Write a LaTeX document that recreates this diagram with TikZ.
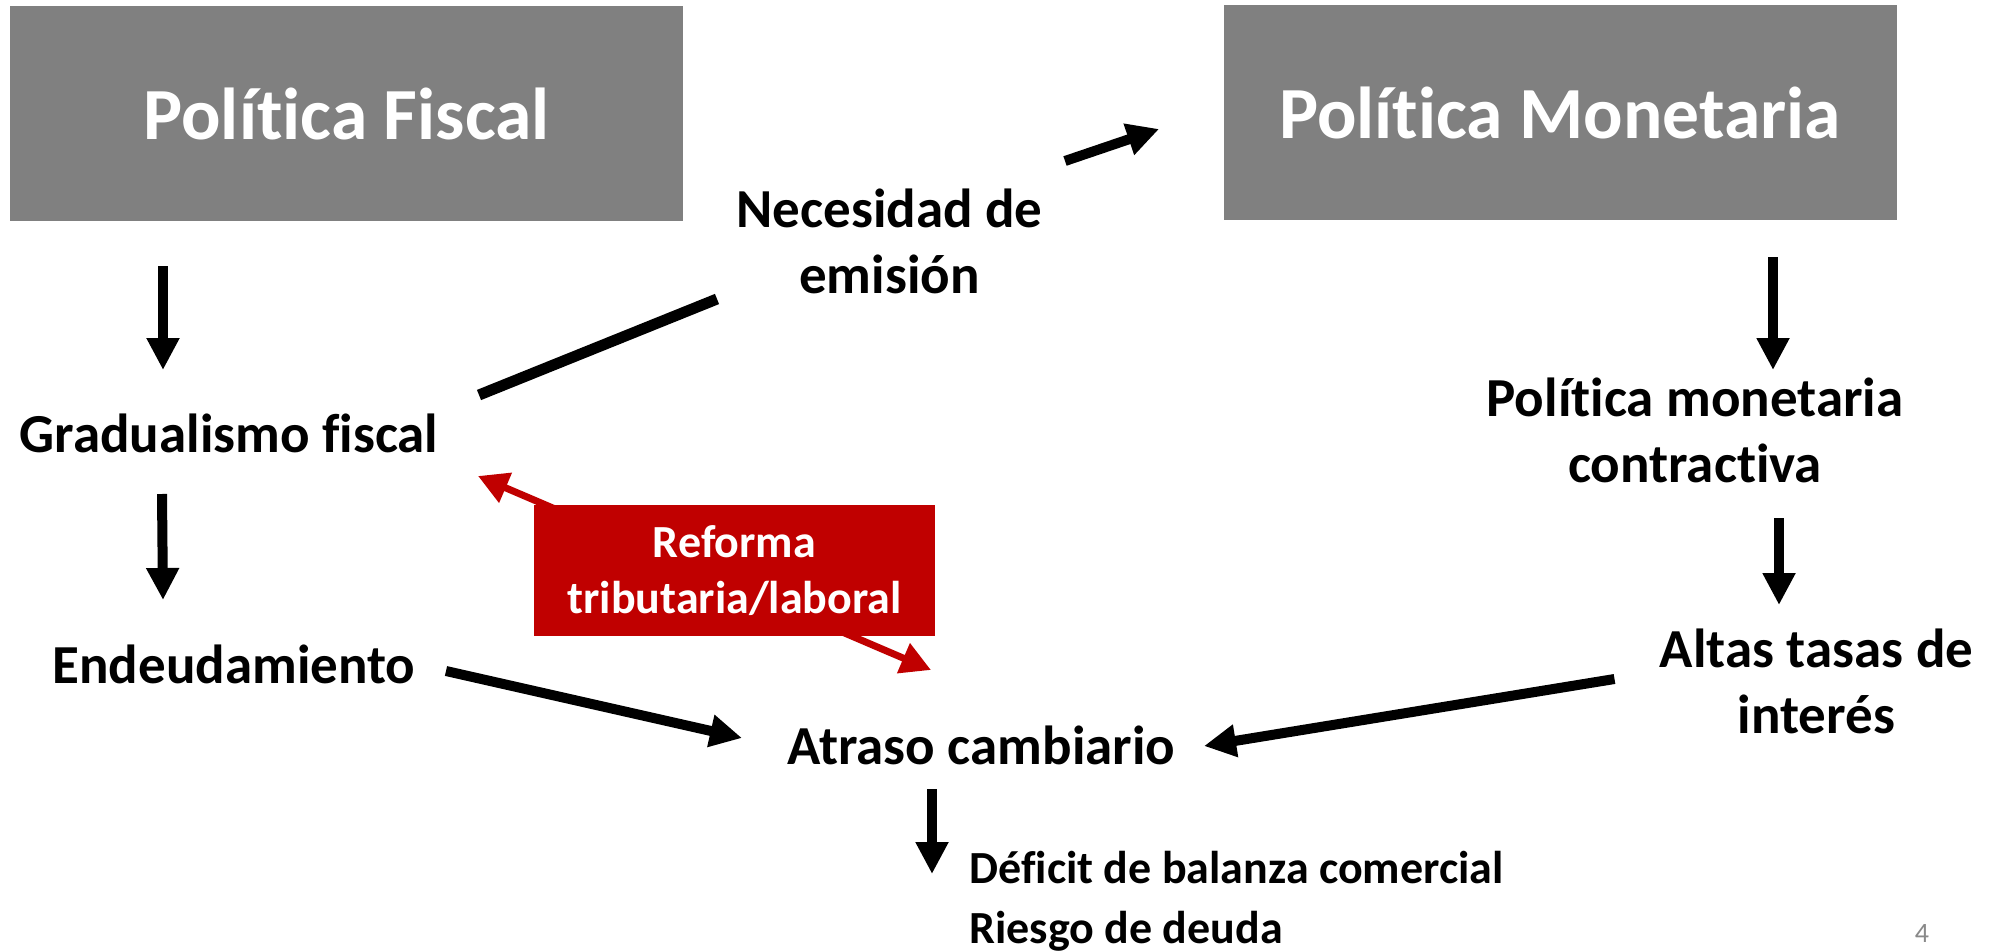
\documentclass[tikz,border=0pt]{standalone}
\usepackage{fontspec}
\setmainfont{Carlito}[Ligatures=NoCommon]
\usetikzlibrary{arrows.meta,calc}

\definecolor{boxgray}{RGB}{128,128,128}
\definecolor{reformred}{RGB}{192,0,0}
\definecolor{pagegray}{RGB}{137,137,137}

\tikzset{
  titlebox/.style={fill=boxgray, text=white, minimum width=336.5pt, minimum height=107.5pt, inner sep=0pt, font=\fontsize{36.75}{44}\selectfont\bfseries},
  concept/.style={anchor=base, inner sep=0pt, align=center, font=\fontsize{27.5}{33}\selectfont\bfseries},
  effect/.style={anchor=base west, inner sep=0pt, align=left, font=\fontsize{23}{30}\selectfont\bfseries},
  reformbox/.style={fill=reformred, text=white, minimum width=200.5pt, minimum height=65.5pt, inner sep=0pt, align=center, font=\fontsize{23}{28}\selectfont\bfseries},
  arr/.style={line width=5pt, -{Triangle[length=16pt,width=15.5pt]}},
  link/.style={line width=5.5pt},
  redarr/.style={color=reformred, line width=3.5pt, {Triangle[length=15pt,width=15.5pt]}-{Triangle[length=15pt,width=15.5pt]}},
}

\begin{document}
\begin{tikzpicture}[x=0.5pt,y=0.5pt,yscale=-1]
\useasboundingbox[fill=white] (0,0) rectangle (2006,952);

%Shape: Rectangle
\node[titlebox] (pf) at (346.5,113.5) {Política Fiscal};
%Shape: Rectangle
\node[titlebox] (pm) at (1560,112.5) {Política Monetaria};

% Text Node (base = last line)
\node[concept] (nec) at (889.5,293) {Necesidad de\\emisión};
% Text Node
\node[concept] (grad) at (229,452) {Gradualismo fiscal};
% Text Node
\node[concept] (endeu) at (234,683) {Endeudamiento};
% Text Node
\node[concept] (atraso) at (981.5,764) {Atraso cambiario};
% Text Node
\node[concept] (pmc) at (1695,482) {Política monetaria\\contractiva};
% Text Node
\node[concept] (altas) at (1816.5,733) {Altas tasas de\\interés};
% Text Node
\node[effect] (efectos) at (969,943) {Déficit de balanza comercial\\Riesgo de deuda};
% Text Node
\node[anchor=base, inner sep=0pt, text=pagegray, font=\fontsize{14}{17}\selectfont] (pagina) at (1922,942) {4};

%Straight Lines
\draw[redarr] ($(grad.base)+(249,24)$) -- ($(atraso.base)+(-50.5,-94)$);
%Shape: Rectangle
\node[reformbox] (reforma) at (734.5,570.5) {Reforma\\tributaria/laboral};

%Straight Lines
\draw[arr] ($(pf.south)+(-183.5,45)$) -- ($(grad.base)+(-66,-82)$);
%Straight Lines
\draw[arr] ($(grad.base)+(-67,42)$) -- ($(endeu.base)+(-71,-83)$);
%Straight Lines
\draw[link] ($(grad.base)+(250,-57)$) -- ($(nec.base)+(-172.5,6)$);
%Straight Lines
\draw[arr] ($(nec.base)+(175.5,-132)$) -- ($(pm.west)+(-64,16.5)$);
%Straight Lines
\draw[arr] ($(pm.south)+(213,37)$) -- ($(pmc.base)+(78,-112)$);
%Straight Lines
\draw[arr] ($(pmc.base)+(84,36)$) -- ($(altas.base)+(-37.5,-128)$);
%Straight Lines
\draw[arr] ($(altas.base)+(-202,-54)$) -- ($(atraso.base)+(222.5,-18)$);
%Straight Lines
\draw[arr] ($(endeu.base)+(212,-12)$) -- ($(atraso.base)+(-239.5,-26)$);
%Straight Lines
\draw[arr] ($(atraso.base)+(-49.5,25)$) -- ($(efectos.base west)+(-37,-69)$);

\end{tikzpicture}
\end{document}
